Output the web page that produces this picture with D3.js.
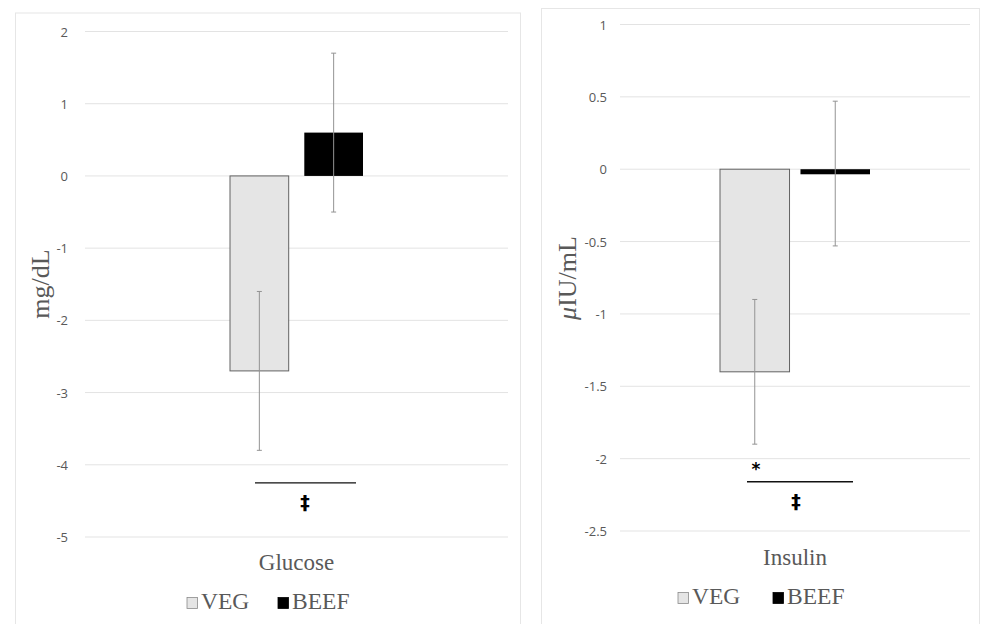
<!DOCTYPE html>
<html>
<head>
<meta charset="utf-8">
<style>
  body { margin: 0; background: #fff; }
  .tick text { font-family: "Open Sans", "Liberation Sans", sans-serif; font-size: 13px; fill: #595959; }
  .serif { font-family: "Liberation Serif", "DejaVu Serif", serif; fill: #595959; }
</style>
</head>
<body>
<svg id="chart" width="981" height="624"></svg>
<script src="https://d3js.org/d3.v7.min.js"></script>
<script>
// data
var series = ['VEG', 'BEEF'];
var seriesColors = ['#e5e5e5', '#000000'];

var glucoseMeans = [-2.7, 0.6];
var glucoseErrLow = [-3.8, -0.5];
var glucoseErrHigh = [-1.6, 1.7];
var glucoseTicks = [2, 1, 0, -1, -2, -3, -4, -5];

var insulinMeans = [-1.4, -0.035];
var insulinErrLow = [-1.9, -0.53];
var insulinErrHigh = [-0.9, 0.47];
var insulinTicks = [1, 0.5, 0, -0.5, -1, -1.5, -2, -2.5];

var svg = d3.select('#chart');

// one panel = one Excel-like chart
function drawPanel(p) {
    var g = svg.append('g');

    // outer chart border
    g.append('rect')
        .attr('x', p.box[0]).attr('y', p.box[1])
        .attr('width', p.box[2]).attr('height', p.box[3])
        .attr('fill', '#fff').attr('stroke', '#e6e6e6');

    var y = d3.scaleLinear()
        .domain([d3.min(p.ticks), d3.max(p.ticks)])
        .range([p.yRange[1], p.yRange[0]]);

    // gridlines
    g.append('g').selectAll('line')
        .data(p.ticks)
        .join('line')
        .attr('x1', p.plotX[0]).attr('x2', p.plotX[1])
        .attr('y1', function (d) { return y(d); })
        .attr('y2', function (d) { return y(d); })
        .attr('stroke', '#e3e3e3').attr('stroke-width', 1);

    // axis labels only
    var axis = d3.axisLeft(y).tickValues(p.ticks).tickSize(0).tickPadding(0)
        .tickFormat(function (d) { return String(d); });
    var ax = g.append('g')
        .attr('transform', 'translate(' + p.labelX + ',0)')
        .call(axis);
    ax.select('.domain').remove();
    ax.selectAll('.tick text').attr('dy', '0.35em');

    // bars, grouped around plot center
    var cx = (p.plotX[0] + p.plotX[1]) / 2;
    var x = d3.scaleBand()
        .domain(series)
        .range([cx - p.groupW / 2, cx + p.groupW / 2])
        .paddingInner(p.pad);

    g.append('g').selectAll('rect')
        .data(series)
        .join('rect')
        .attr('x', function (d) { return x(d); })
        .attr('width', x.bandwidth())
        .attr('y', function (d, i) { return y(Math.max(0, p.means[i])); })
        .attr('height', function (d, i) { return Math.abs(y(p.means[i]) - y(0)); })
        .attr('fill', function (d, i) { return seriesColors[i]; })
        .attr('stroke', function (d, i) { return i === 0 ? '#626262' : 'none'; })
        .attr('stroke-width', 1);

    // error bars
    var eb = g.append('g').selectAll('g')
        .data(series)
        .join('g')
        .attr('stroke', '#939393').attr('stroke-width', 1);
    eb.append('line')
        .attr('x1', function (d) { return x(d) + x.bandwidth() / 2; })
        .attr('x2', function (d) { return x(d) + x.bandwidth() / 2; })
        .attr('y1', function (d, i) { return y(p.lo[i]); })
        .attr('y2', function (d, i) { return y(p.hi[i]); });
    [p.lo, p.hi].forEach(function (arr) {
        eb.append('line')
            .attr('x1', function (d) { return x(d) + x.bandwidth() / 2 - 2.5; })
            .attr('x2', function (d) { return x(d) + x.bandwidth() / 2 + 2.5; })
            .attr('y1', function (d, i) { return y(arr[i]); })
            .attr('y2', function (d, i) { return y(arr[i]); });
    });

    // significance bracket
    g.append('line')
        .attr('x1', p.sig[0]).attr('x2', p.sig[1])
        .attr('y1', y(p.sigY)).attr('y2', y(p.sigY))
        .attr('stroke', '#111').attr('stroke-width', 1.4);
    g.append('text')
        .attr('x', p.daggerX).attr('y', y(p.sigY) + 26)
        .attr('text-anchor', 'middle')
        .attr('font-family', 'DejaVu Sans, sans-serif')
        .attr('font-size', 19).attr('font-weight', 'bold')
        .text('\u2021');
    if (p.star) {
        g.append('text')
            .attr('x', p.star[0]).attr('y', y(p.sigY) - 7)
            .attr('text-anchor', 'middle')
            .attr('font-family', 'DejaVu Sans, sans-serif')
            .attr('font-size', 17).attr('font-weight', 'bold')
            .text('*');
    }

    // category label
    g.append('text').attr('class', 'serif')
        .attr('x', cx).attr('y', p.catY)
        .attr('text-anchor', 'middle').attr('font-size', 23)
        .text(p.category);

    // y title
    var yt = g.append('text').attr('class', 'serif')
        .attr('transform', 'translate(' + p.titleX + ',' + p.titleY + ') rotate(-90)')
        .attr('text-anchor', 'middle').attr('font-size', 26);
    if (p.mu) {
        yt.append('tspan').attr('font-style', 'italic').text('\u03bc');
        yt.append('tspan').text('IU/mL');
    } else {
        yt.text(p.title);
    }

    // legend
    var lg = g.append('g').selectAll('g')
        .data(series)
        .join('g')
        .attr('transform', function (d, i) { return 'translate(' + p.legX[i] + ',' + p.legY + ')'; });
    lg.append('rect')
        .attr('x', 0.5).attr('y', -11.5).attr('width', 10.5).attr('height', 11)
        .attr('fill', function (d, i) { return seriesColors[i]; })
        .attr('stroke', function (d, i) { return i === 0 ? '#8a8a8a' : '#000'; })
        .attr('stroke-width', 0.8);
    lg.append('text').attr('class', 'serif')
        .attr('x', 14.5).attr('y', 0)
        .attr('font-size', 23.5)
        .text(function (d) { return d; });
}

drawPanel({
    box: [15.5, 13, 505, 620],
    plotX: [85, 508], yRange: [31.5, 537], labelX: 68,
    ticks: glucoseTicks,
    means: glucoseMeans, lo: glucoseErrLow, hi: glucoseErrHigh,
    groupW: 133, pad: 0.21,
    sig: [255, 356], sigY: -4.25, daggerX: 305,
    category: 'Glucose', catY: 570,
    title: 'mg/dL', titleX: 49, titleY: 284,
    legX: [186.5, 277.5], legY: 609
});

drawPanel({
    box: [541.5, 8.5, 438, 620],
    plotX: [620, 970], yRange: [24.5, 531], labelX: 607,
    ticks: insulinTicks,
    means: insulinMeans, lo: insulinErrLow, hi: insulinErrHigh,
    groupW: 150, pad: 0.136,
    sig: [747, 853], sigY: -2.16, daggerX: 796, star: [756],
    category: 'Insulin', catY: 565,
    mu: true, titleX: 576, titleY: 278,
    legX: [677.5, 772.5], legY: 604
});
</script>
</body>
</html>
